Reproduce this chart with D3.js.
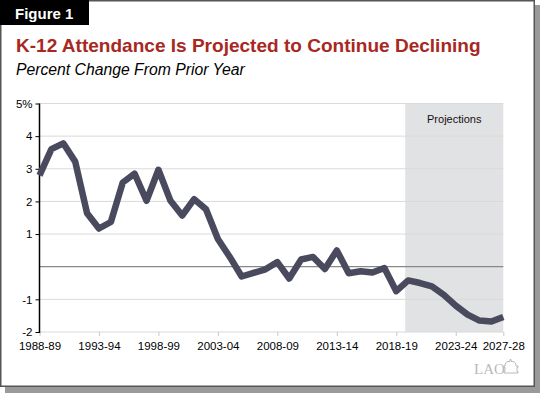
<!DOCTYPE html>
<html>
<head>
<meta charset="utf-8">
<script src="https://cdn.jsdelivr.net/npm/d3@7"></script>
<style>
  html, body { margin: 0; padding: 0; background: #fff; }
  svg { display: block; font-family: "Liberation Sans", Arial, Helvetica, sans-serif; }
</style>
</head>
<body>
<div id="chart"></div>
<script>
// school years, 1988-89 through 2027-28
const years = d3.range(1988, 2028);
const values = [
  2.8, 3.6, 3.78, 3.22, 1.64, 1.17, 1.37, 2.58, 2.85, 2.02,
  2.97, 2.03, 1.57, 2.07, 1.76, 0.85, 0.3, -0.3, -0.19, -0.08,
  0.14, -0.36, 0.22, 0.3, -0.07, 0.5, -0.2, -0.14, -0.18, -0.04,
  -0.75, -0.42, -0.5, -0.6, -0.86, -1.19, -1.47, -1.65, -1.68, -1.54
];
const yTicks = [5, 4, 3, 2, 1, 0, -1, -2];
const xTickYears = [1988, 1993, 1998, 2003, 2008, 2013, 2018, 2023, 2027];
const projectionStart = 2018.75;

const width = 540, height = 393;
const margin = {left: 39.5, right: 36.7, top: 103.5, bottom: 61};

const label = y => y + "-" + String((y + 1) % 100).padStart(2, "0");

const svg = d3.select("#chart")
  .append("svg")
  .attr("width", width)
  .attr("height", height);

// frame with drop shadow
svg.append("rect")
  .attr("x", 5).attr("y", 5)
  .attr("width", 535).attr("height", 388)
  .attr("fill", "#9a9a9a");
svg.append("rect")
  .attr("x", 0.75).attr("y", 0.75)
  .attr("width", 533.5).attr("height", 385.5)
  .attr("fill", "#fff")
  .attr("stroke", "#555")
  .attr("stroke-width", 1.5);

// figure tab
svg.append("rect")
  .attr("x", 0).attr("y", 0)
  .attr("width", 89).attr("height", 25)
  .attr("fill", "#000");
svg.append("text")
  .attr("x", 15).attr("y", 19)
  .attr("fill", "#fff")
  .style("font-size", "15px")
  .style("font-weight", "bold")
  .text("Figure 1");

function fitText(sel, target) {
  const w = sel.node().getComputedTextLength();
  const fs = parseFloat(sel.style("font-size"));
  sel.style("font-size", (fs * target / w).toFixed(2) + "px");
}

const title = svg.append("text")
  .attr("x", 16).attr("y", 51.5)
  .attr("fill", "#a8281f")
  .style("font-size", "19px")
  .style("font-weight", "bold")
  .text("K-12 Attendance Is Projected to Continue Declining");
fitText(title, 465);

const subtitle = svg.append("text")
  .attr("x", 16).attr("y", 75)
  .attr("fill", "#000")
  .style("font-size", "15px")
  .style("font-style", "italic")
  .text("Percent Change From Prior Year");
fitText(subtitle, 229);

const x = d3.scaleLinear()
  .domain([1988, 2027])
  .range([margin.left, width - margin.right]);
const y = d3.scaleLinear()
  .domain([-2, 5])
  .range([height - margin.bottom, margin.top]);

// projections shade
svg.append("rect")
  .attr("x", x(projectionStart))
  .attr("y", y(5))
  .attr("width", x(2027) - x(projectionStart))
  .attr("height", y(-2) - y(5))
  .attr("fill", "#e1e2e4");
svg.append("text")
  .attr("x", (x(projectionStart) + x(2027)) / 2)
  .attr("y", 123)
  .attr("text-anchor", "middle")
  .style("font-size", "11px")
  .attr("fill", "#111")
  .text("Projections");

// gridlines
svg.append("g")
  .selectAll("line")
  .data(yTicks)
  .join("line")
  .attr("x1", x(1988)).attr("x2", x(2027))
  .attr("y1", d => y(d)).attr("y2", d => y(d))
  .attr("stroke", d => d === 0 ? "#888" : "#dadada")
  .attr("stroke-width", d => d === 0 ? 1.3 : 1);

// x axis ticks
const xAxis = svg.append("g")
  .attr("transform", `translate(0,${y(-2)})`)
  .call(d3.axisBottom(x)
    .tickValues(xTickYears)
    .tickSize(4)
    .tickPadding(6)
    .tickFormat(label));
xAxis.select(".domain").remove();
xAxis.selectAll(".tick line").attr("stroke", "#c8c8c8");
xAxis.selectAll(".tick text")
  .attr("fill", "#000")
  .style("font-size", "11.5px")
  .style("font-family", "'Liberation Sans', Arial, sans-serif");

// y axis
const yAxis = svg.append("g")
  .attr("transform", `translate(${x(1988)},0)`)
  .call(d3.axisLeft(y)
    .tickValues(yTicks)
    .tickSize(4)
    .tickPadding(3)
    .tickFormat(d => d === 0 ? "" : d === 5 ? "5%" : d));
yAxis.select(".domain")
  .attr("stroke", "#000")
  .attr("stroke-width", 1.5)
  .attr("d", `M0,${y(5)}V${y(-2) + 1}`);
yAxis.selectAll(".tick line").attr("stroke", "#000");
yAxis.selectAll(".tick").filter(d => d === 0).select("line").remove();
yAxis.selectAll(".tick text")
  .attr("fill", "#000")
  .style("font-size", "11.5px")
  .style("font-family", "'Liberation Sans', Arial, sans-serif");

// the line
const line = d3.line()
  .x((d, i) => x(years[i]))
  .y(d => y(d));
svg.append("path")
  .datum(values)
  .attr("fill", "none")
  .attr("stroke", "#4a4a5e")
  .attr("stroke-width", 6.5)
  .attr("stroke-linejoin", "round")
  .attr("d", line);

// LAO mark
const logo = svg.append("g").attr("fill", "#b9b9b9");
logo.append("text")
  .attr("x", 474).attr("y", 374)
  .style("font-family", "'Liberation Serif', 'DejaVu Serif', serif")
  .style("font-size", "15px")
  .text("LAO");
logo.append("path")
  .attr("d", "M504,373h14v-1.5h-1v-4h1v-1.5h-2a4,4 0 0 0 -5,-4.5v-2h-1v2a4,4 0 0 0 -5,4.5h-1v1.5h1v4h-1z")
  .attr("fill", "none")
  .attr("stroke", "#b9b9b9")
  .attr("stroke-width", 1);
</script>
</body>
</html>
